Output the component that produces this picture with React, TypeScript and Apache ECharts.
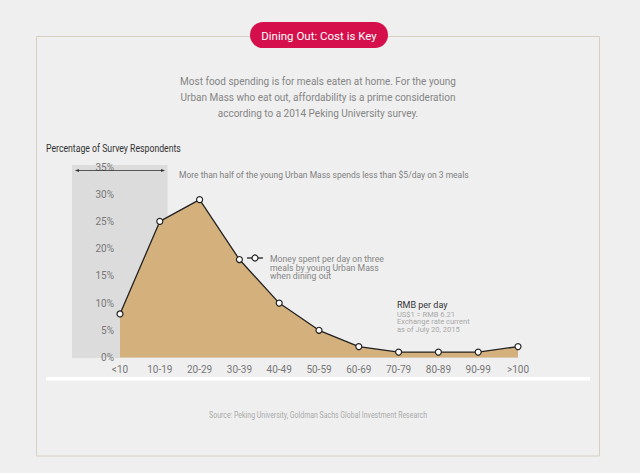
import React, { useEffect, useRef } from "react";
import * as echarts from "echarts";

const categories = ["<10", "10-19", "20-29", "30-39", "40-49", "50-59", "60-69", "70-79", "80-89", "90-99", ">100"];
const shareValues = [8, 25, 29, 18, 10, 5, 2, 1, 1, 1, 2];
const yTicks = { min: 0, max: 35, interval: 5 };

const titleText = "Dining Out: Cost is Key";
const subtitleLines = [
  "Most food spending is for meals eaten at home. For the young",
  "Urban Mass who eat out, affordability is a prime consideration",
  "according to a 2014 Peking University survey.",
];
const axisTitle = "Percentage of Survey Respondents";
const noteTop = "More than half of the young Urban Mass spends less than $5/day on 3 meals";
const seriesNote = ["Money spent per day on three", "meals by young Urban Mass", "when dining out"];
const unitTitle = "RMB per day";
const unitNote = ["US$1 = RMB 6.21", "Exchange rate current", "as of July 20, 2015"];
const sourceText = "Source: Peking University, Goldman Sachs Global Investment Research";

const REG = "'Roboto', 'Liberation Sans', sans-serif";

export default function App() {
  const ref = useRef<HTMLDivElement>(null);
  useEffect(() => {
    if (!ref.current) return;
    const chart = echarts.init(ref.current, undefined, { renderer: "svg" });
    const graphic: any[] = [
      // frame
      { type: "rect", z: 0, shape: { x: 36.5, y: 36.5, width: 563, height: 419.5 }, style: { fill: "none", stroke: "#d8cfc2", lineWidth: 1 } },
      // pill
      { type: "rect", z: 5, shape: { x: 250, y: 22, width: 138, height: 26, r: 13 }, style: { fill: "#d50f4b" } },
      { type: "text", z: 6, x: 319, y: 35.5, style: { text: titleText, fill: "#ffffff", font: `11.5px ${REG}`, align: "center", verticalAlign: "middle" } },
      // subtitle
      ...subtitleLines.map((t, i) => ({
        type: "text", x: 318, y: 81 + i * 16, style: { text: t, fill: "#858585", font: `10px ${REG}`, align: "center", verticalAlign: "middle" },
      })),
      { type: "text", x: 46, y: 148, scaleX: 0.87, style: { text: axisTitle, fill: "#333333", font: `10px ${REG}`, align: "left", verticalAlign: "middle" } },
      // shaded region
      { type: "rect", z: -1, shape: { x: 72, y: 165, width: 95.5, height: 193 }, style: { fill: "#dcdcdc" } },
      // arrow
      { type: "line", z: 10, shape: { x1: 76, y1: 170.5, x2: 164, y2: 170.5 }, style: { stroke: "#333", lineWidth: 0.8 } },
      { type: "polygon", z: 10, shape: { points: [[75, 170.5], [79, 169], [79, 172]] }, style: { fill: "#333" } },
      { type: "polygon", z: 10, shape: { points: [[165, 170.5], [161, 169], [161, 172]] }, style: { fill: "#333" } },
      { type: "text", x: 179, y: 175, style: { text: noteTop, fill: "#808080", font: `8.5px ${REG}`, align: "left", verticalAlign: "middle" } },
      // series legend note
      { type: "line", z: 10, shape: { x1: 247, y1: 258, x2: 263, y2: 258 }, style: { stroke: "#222", lineWidth: 1.3 } },
      { type: "circle", z: 11, shape: { cx: 255, cy: 258, r: 3 }, style: { fill: "#fff", stroke: "#222", lineWidth: 1.2 } },
      ...seriesNote.map((t, i) => ({
        type: "text", x: 270, y: 259 + i * 8.7, style: { text: t, fill: "#858585", font: `8.7px ${REG}`, align: "left", verticalAlign: "middle" },
      })),
      { type: "text", x: 397, y: 305, style: { text: unitTitle, fill: "#333333", font: `9px ${REG}`, align: "left", verticalAlign: "middle" } },
      ...unitNote.map((t, i) => ({
        type: "text", x: 397, y: 314 + i * 7.7, style: { text: t, fill: "#a8a8a8", font: `7.5px ${REG}`, align: "left", verticalAlign: "middle" },
      })),
      // white band
      { type: "rect", shape: { x: 46, y: 377, width: 544, height: 3.5 }, style: { fill: "#ffffff" } },
      { type: "text", x: 318, y: 415, scaleX: 0.82, style: { text: sourceText, fill: "#aaaaaa", font: `8.5px ${REG}`, align: "center", verticalAlign: "middle" } },
    ];
    chart.setOption({
      animation: false,
      backgroundColor: "#efefef",
      grid: { left: 120, right: 122, top: 167, bottom: 115.5, containLabel: false },
      xAxis: {
        type: "category",
        data: categories,
        boundaryGap: false,
        axisLine: { show: true, lineStyle: { color: "#e2e2e2", width: 1 } },
        axisTick: { show: false },
        axisLabel: { color: "#777", fontSize: 10, fontFamily: REG, margin: 7 },
        splitLine: { show: false },
      },
      yAxis: {
        type: "value",
        min: yTicks.min,
        max: yTicks.max,
        interval: yTicks.interval,
        axisLine: { show: false },
        axisTick: { show: false },
        splitLine: { show: false },
        axisLabel: { color: "#777", fontSize: 10, fontFamily: REG, margin: 6, formatter: "{value}%" },
      },
      series: [
        {
          type: "line",
          data: shareValues,
          z: 3,
          symbol: "circle",
          symbolSize: 6,
          showSymbol: true,
          lineStyle: { color: "#222", width: 1.3 },
          itemStyle: { color: "#ffffff", borderColor: "#222", borderWidth: 1.2 },
          areaStyle: { color: "#d4b07c", opacity: 1 },
        },
      ],
      graphic,
    });
    return () => chart.dispose();
  }, []);
  return <div ref={ref} style={{ position: "fixed", left: 0, top: 0, width: 640, height: 473 }} />;
}
